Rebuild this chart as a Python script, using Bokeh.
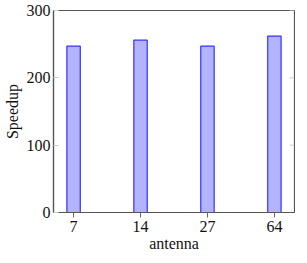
from bokeh.plotting import figure
from bokeh.models import FixedTicker, Range1d
from bokeh.embed import file_html
from bokeh.resources import INLINE

categories = ["7", "14", "27", "64"]
speedup = [247, 256, 247, 262]
y_ticks = [0, 100, 200, 300]

xs = list(range(len(categories)))
FONT = "Liberation Serif"
X0, X1 = -0.3, 3.3

p = figure(frame_width=241, frame_height=202, output_backend="svg", toolbar_location=None,
           x_range=Range1d(X0, X1), y_range=Range1d(0, 300),
           min_border_left=0, min_border_right=1, min_border_top=10, min_border_bottom=0)
p.vbar(x=xs, top=speedup, width=0.2, bottom=0,
       fill_color="#b3b3ff", line_color="#3333ff", line_width=1.2)

# right-side inner tick marks (mirrored y ticks)
tick_len = (X1 - X0) * 5 / 241
p.segment(x0=[X1 - tick_len] * len(y_ticks), y0=y_ticks, x1=[X1] * len(y_ticks), y1=y_ticks,
          line_color="#cccccc", line_width=1)

p.xgrid.visible = False
p.ygrid.visible = False
p.outline_line_color = "#555555"
p.outline_line_width = 1.2

xa = p.xaxis[0]
xa.ticker = FixedTicker(ticks=xs)
xa.major_label_overrides = {i: c for i, c in enumerate(categories)}
xa.axis_label = "antenna"
xa.minor_tick_line_color = None
xa.major_tick_in = 0
xa.major_tick_out = 5
xa.major_tick_line_color = "#666666"
xa.axis_line_color = "#555555"
xa.axis_line_width = 1.2

ya = p.yaxis[0]
ya.ticker = FixedTicker(ticks=y_ticks)
ya.axis_label = "Speedup"
ya.minor_tick_line_color = None
ya.major_tick_in = 5
ya.major_tick_out = 0
ya.major_tick_line_color = "#cccccc"
ya.axis_line_color = "#555555"
ya.axis_line_width = 1.2

for ax in (xa, ya):
    ax.major_label_text_font = FONT
    ax.major_label_text_font_size = "16px"
    ax.major_label_text_color = "#111111"
    ax.axis_label_text_font = FONT
    ax.axis_label_text_font_size = "16px"
    ax.axis_label_text_font_style = "normal"
    ax.axis_label_text_color = "#111111"
xa.major_label_standoff = 3
xa.axis_label_standoff = 0
ya.major_label_standoff = 3
ya.axis_label_standoff = 3

open("out.html", "w").write(file_html(p, INLINE))
